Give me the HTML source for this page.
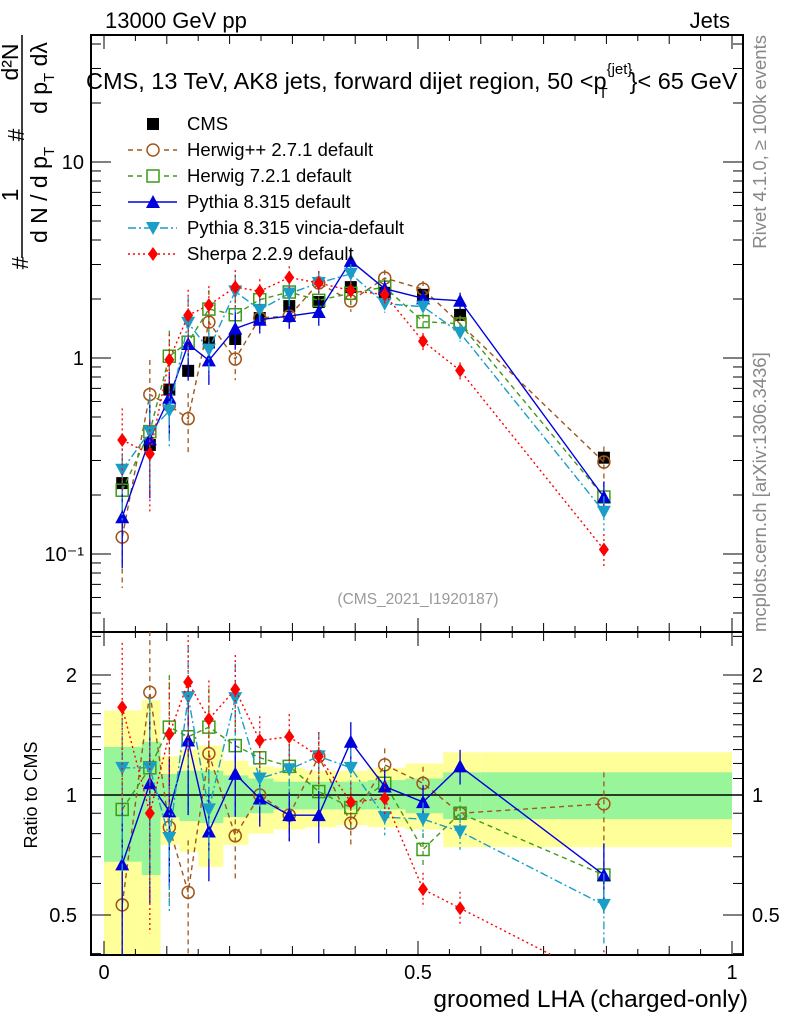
<!DOCTYPE html>
<html><head><meta charset="utf-8"><style>
html,body{margin:0;padding:0;background:#fff;}
svg{display:block;font-family:"Liberation Sans",sans-serif;}
</style></head><body>
<svg id="c" width="786" height="1024" viewBox="0 0 786 1024">
<defs>
<clipPath id="cm"><rect x="91" y="35" width="652" height="597"/></clipPath>
<clipPath id="cr"><rect x="91" y="632" width="652" height="323"/></clipPath>
</defs>
<g id="bands" clip-path="url(#cr)"></g>
<g id="frame"></g>
<g id="series"></g>
<g id="texts">
<text x="105" y="28" font-size="22">13000 GeV pp</text>
<text x="730" y="28" font-size="22" text-anchor="end">Jets</text>
<text x="86" y="89" font-size="23.5">CMS, 13 TeV, AK8 jets, forward dijet region, 50 &lt;p<tspan font-size="15" dy="-15">{jet}</tspan><tspan font-size="15" dx="-34" dy="24">T</tspan><tspan dx="22" dy="-9">}&lt; 65 GeV</tspan></text>
<text x="418" y="604" font-size="15.5" fill="#999" text-anchor="middle">(CMS_2021_I1920187)</text>
<text x="748" y="1007" font-size="24.5" text-anchor="end">groomed LHA (charged-only)</text>
<text transform="translate(37,795) rotate(-90)" font-size="18" text-anchor="middle">Ratio to CMS</text>
<text transform="translate(766,35) rotate(-90)" font-size="18.5" fill="#888" text-anchor="end">Rivet 4.1.0, ≥ 100k events</text>
<text transform="translate(766,632) rotate(-90)" font-size="18.5" fill="#888">mcplots.cern.ch [arXiv:1306.3436]</text>
<g font-size="23">
<line x1="22" y1="35" x2="22" y2="258" stroke="#000" stroke-width="1.5"/>
<text transform="translate(18,195) rotate(-90)" text-anchor="middle">1</text>
<text transform="translate(47,195) rotate(-90)" text-anchor="middle">d N / d p<tspan font-size="15" dy="7">T</tspan></text>
<text transform="translate(28,263) rotate(-90)" text-anchor="middle">#</text>
<text transform="translate(24,135) rotate(-90)" text-anchor="middle">#</text>
<text transform="translate(18,62) rotate(-90)" text-anchor="middle">d²N</text>
<text transform="translate(47,78) rotate(-90)" text-anchor="middle">d p<tspan font-size="15" dy="7">T</tspan><tspan dy="-7"> dλ</tspan></text>
</g>
</g>
<g id="legend"></g>
</svg>
<script>
var NS="http://www.w3.org/2000/svg";
var binCenters=[0.029,0.073,0.104,0.134,0.167,0.209,0.248,0.295,0.342,0.393,0.447,0.508,0.567,0.796];
var binEdges=[0,0.06,0.09,0.12,0.15,0.19,0.23,0.27,0.32,0.37,0.42,0.48,0.54,0.6,1.0];
var cmsValues=[0.23,0.36,0.69,0.86,1.2,1.25,1.6,1.84,1.93,2.3,2.15,2.1,1.66,0.31];
var herwigppRatio=[0.53,1.81,0.83,0.57,1.27,0.79,1.0,0.89,1.25,0.85,1.19,1.07,0.90,0.95];
var herwig7Ratio=[0.92,1.17,1.48,1.40,1.48,1.33,1.24,1.18,1.02,0.93,1.07,0.73,0.90,0.63];
var pythiaRatio=[0.67,1.07,0.91,1.37,0.81,1.13,0.98,0.89,0.89,1.36,1.05,0.96,1.18,0.63];
var vinciaRatio=[1.17,1.17,0.78,1.76,0.92,1.75,1.10,1.16,1.25,1.17,0.88,0.87,0.81,0.53];
var sherpaRatio=[1.66,0.90,1.42,1.92,1.55,1.84,1.37,1.40,1.25,0.96,0.98,0.58,0.52,0.34];
var mcRelErr=[0.45,0.5,0.35,0.35,0.25,0.22,0.15,0.14,0.15,0.12,0.1,0.1,0.1,0.2];
var yellowUp=[1.63,1.73,1.25,1.3,1.33,1.22,1.18,1.17,1.15,1.15,1.17,1.2,1.28,1.28];
var yellowDn=[0.3,0.3,0.75,0.72,0.66,0.75,0.8,0.82,0.83,0.84,0.83,0.82,0.74,0.74];
var greenUp=[1.32,1.36,1.13,1.15,1.15,1.12,1.1,1.08,1.08,1.08,1.09,1.1,1.14,1.14];
var greenDn=[0.68,0.63,0.88,0.86,0.85,0.88,0.9,0.92,0.92,0.92,0.92,0.9,0.87,0.87];
var mainTicks=[0.1,1,10];
var mainTickLabels=["10\u207B\u00B9","1","10"];
var ratioTicks=[0.5,1,2];
var ratioTickLabels=["0.5","1","2"];
var xTicks=[0,0.5,1];
var xTickLabels=["0","0.5","1"];

function X(v){return 104+628*v;}
function YM(v){return 358-196*Math.log10(v);}
function YR(r){return 795-120*Math.log2(r);}
function mk(tag,attrs,parent){var e=document.createElementNS(NS,tag);for(var k in attrs)e.setAttribute(k,attrs[k]);parent.appendChild(e);return e;}

var bands=document.getElementById('bands');
for(var i=0;i<binCenters.length;i++){
 var r=mk('rect',{x:X(binEdges[i]),y:YR(yellowUp[i]),width:X(binEdges[i+1])-X(binEdges[i]),height:YR(yellowDn[i])-YR(yellowUp[i]),fill:'#ffff99'},bands);
 
 
}
for(var i=0;i<binCenters.length;i++){
 var r=mk('rect',{x:X(binEdges[i]),y:YR(greenUp[i]),width:X(binEdges[i+1])-X(binEdges[i]),height:YR(greenDn[i])-YR(greenUp[i]),fill:'#99f599'},bands);
 
 
}

var fr=document.getElementById('frame');
mk('line',{x1:91,y1:795,x2:743,y2:795,stroke:'#000','stroke-width':1.5},fr);
mk('rect',{x:91,y:35,width:652,height:597,fill:'none',stroke:'#000','stroke-width':2},fr);
mk('rect',{x:91,y:632,width:652,height:323,fill:'none',stroke:'#000','stroke-width':2},fr);
for(var k=0;k<=20;k++){
 var v=k*0.05,x=X(v),len=(k%10==0)?14:(k%2==0?9:6);
 [[35,1],[632,-1],[632,1],[955,-1]].forEach(function(p){mk('line',{x1:x,y1:p[0],x2:x,y2:p[0]+p[1]*len,stroke:'#000','stroke-width':1},fr);});
}
for(var i=0;i<xTicks.length;i++){
 var t=mk('text',{x:X(xTicks[i]),y:979,'font-size':20,'text-anchor':'middle'},fr);t.textContent=xTickLabels[i];
 
 
}
for(var d=-2;d<=1;d++){for(var m=1;m<=9;m++){
 var v=m*Math.pow(10,d),y=YM(v);if(y<35||y>632)continue;var len=m==1?20:10;
 mk('line',{x1:91,y1:y,x2:91+len,y2:y,stroke:'#000'},fr);mk('line',{x1:743,y1:y,x2:743-len,y2:y,stroke:'#000'},fr);
}}
for(var i=0;i<mainTicks.length;i++){
 var t=mk('text',{x:84,y:YM(mainTicks[i])+7,'font-size':20,'text-anchor':'end'},fr);t.textContent=mainTickLabels[i];
 
 
}
[0.4,0.5,0.6,0.7,0.8,0.9,1,1.1,1.2,1.3,1.4,1.5,1.6,1.7,1.8,1.9,2,2.5].forEach(function(v){
 var y=YR(v);if(y<632||y>955)return;var len=(v==0.5||v==1||v==2)?20:10;
 mk('line',{x1:91,y1:y,x2:91+len,y2:y,stroke:'#000'},fr);mk('line',{x1:743,y1:y,x2:743-len,y2:y,stroke:'#000'},fr);
});
for(var i=0;i<ratioTicks.length;i++){
 var t=mk('text',{x:77,y:YR(ratioTicks[i])+7,'font-size':20,'text-anchor':'end'},fr);t.textContent=ratioTickLabels[i];
 
 
 var t2=mk('text',{x:752,y:YR(ratioTicks[i])+7,'font-size':20},fr);t2.textContent=ratioTickLabels[i];
 
 
}

function marker(g,type,x,y,col){
 if(type=='sq')return mk('rect',{x:x-6,y:y-6,width:12,height:12,fill:'#000'},g);
 if(type=='circ')return mk('circle',{cx:x,cy:y,r:6,fill:'none',stroke:col,'stroke-width':1.5},g);
 if(type=='osq')return mk('rect',{x:x-6,y:y-6,width:12,height:12,fill:'none',stroke:col,'stroke-width':1.5},g);
 if(type=='up')return mk('polygon',{points:(x-7)+','+(y+6)+' '+(x+7)+','+(y+6)+' '+x+','+(y-7),fill:col},g);
 if(type=='dn')return mk('polygon',{points:(x-7)+','+(y-6)+' '+(x+7)+','+(y-6)+' '+x+','+(y+7),fill:col},g);
 if(type=='dia')return mk('polygon',{points:x+','+(y-7)+' '+(x+5)+','+y+' '+x+','+(y+7)+' '+(x-5)+','+y,fill:col},g);
}
var series=[
 {name:'herwigpp',ratio:herwigppRatio,col:'#a0561a',dash:'5,4',m:'circ',label:'Herwig++ 2.7.1 default'},
 {name:'herwig7',ratio:herwig7Ratio,col:'#3f9a1a',dash:'5,4',m:'osq',label:'Herwig 7.2.1 default'},
 {name:'pythia',ratio:pythiaRatio,col:'#0000dd',dash:'',m:'up',label:'Pythia 8.315 default'},
 {name:'vincia',ratio:vinciaRatio,col:'#1a9ec8',dash:'8,3,2,3',m:'dn',label:'Pythia 8.315 vincia-default'},
 {name:'sherpa',ratio:sherpaRatio,col:'#ff0000',dash:'2,3',m:'dia',label:'Sherpa 2.2.9 default'}
];
var sg=document.getElementById('series');
var gm=mk('g',{'clip-path':'url(#cm)'},sg);
var gr=mk('g',{'clip-path':'url(#cr)'},sg);
for(var i=0;i<binCenters.length;i++){
 var p=marker(gm,'sq',X(binCenters[i]),YM(cmsValues[i]),'#000');
 
 
}
series.forEach(function(s){
 var ptsM=[],ptsR=[];
 for(var i=0;i<binCenters.length;i++){
  var v=cmsValues[i]*s.ratio[i];
  ptsM.push(X(binCenters[i])+','+YM(v));ptsR.push(X(binCenters[i])+','+YR(s.ratio[i]));
 }
 var a={fill:'none',stroke:s.col,'stroke-width':1.4};if(s.dash)a['stroke-dasharray']=s.dash;
 var l1=mk('polyline',Object.assign({points:ptsM.join(' ')},a),gm);
 
 
 var l2=mk('polyline',Object.assign({points:ptsR.join(' ')},a),gr);
 
 
 for(var i=0;i<binCenters.length;i++){
  var v=cmsValues[i]*s.ratio[i],e=mcRelErr[i],x=X(binCenters[i]);
  var ea={stroke:s.col,'stroke-width':1.3};if(s.dash)ea['stroke-dasharray']=s.dash;
  mk('line',Object.assign({x1:x,x2:x,y1:YM(v*(1+e)),y2:YM(Math.max(v*(1-e),1e-3))},ea),gm);
  mk('line',Object.assign({x1:x,x2:x,y1:YR(s.ratio[i]*(1+e)),y2:YR(Math.max(s.ratio[i]*(1-e),0.01))},ea),gr);
  var p=marker(gm,s.m,x,YM(v),s.col);
  
  
  var q=marker(gr,s.m,x,YR(s.ratio[i]),s.col);
  
  
 }
});
var lg=document.getElementById('legend');


var ly=124;
var e0=mk('g',{},lg);


marker(e0,'sq',153,ly,'#000');
var t0=mk('text',{x:187,y:ly+6,'font-size':18.5},e0);t0.textContent='CMS';
series.forEach(function(s,i){
 var y=ly+26*(i+1);
 var g=mk('g',{},lg);
 
 
 var a={x1:128,x2:177,y1:y,y2:y,stroke:s.col,'stroke-width':1.4};if(s.dash)a['stroke-dasharray']=s.dash;
 mk('line',a,g);
 if(s.m=='circ'||s.m=='osq')mk('rect',{x:146,y:y-7,width:14,height:14,fill:'#fff'},g);
 marker(g,s.m,153,y,s.col);
 var t=mk('text',{x:187,y:y+6,'font-size':18.5},g);t.textContent=s.label;
});
</script>
</body></html>
